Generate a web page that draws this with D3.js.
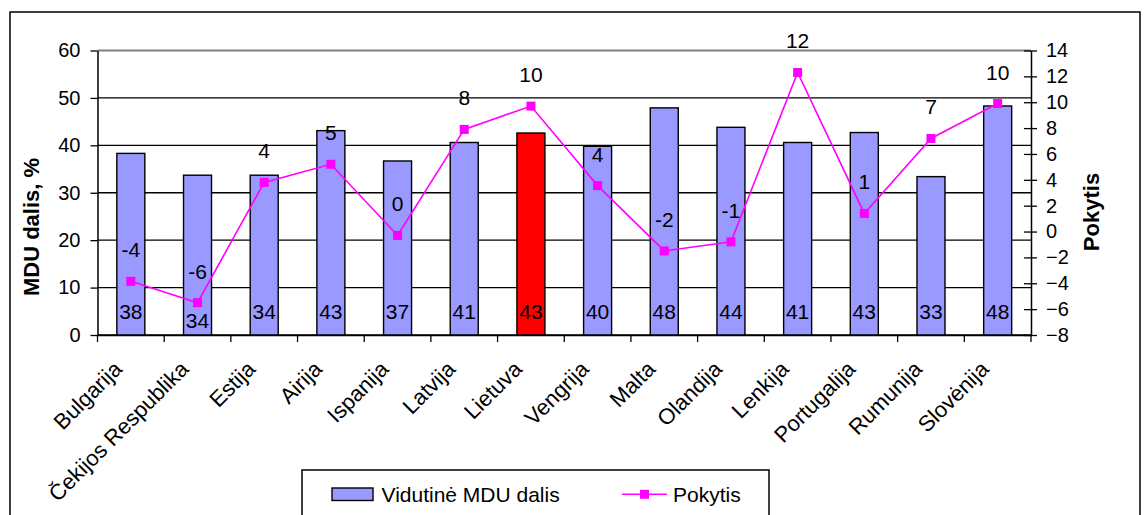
<!DOCTYPE html>
<html>
<head>
<meta charset="utf-8">
<script src="https://cdn.jsdelivr.net/npm/d3@7"></script>
<style>
  html, body { margin: 0; padding: 0; background: #fff; }
  svg { display: block; font-family: "Liberation Sans", Arial, sans-serif; }
</style>
</head>
<body>
<svg id="chart" width="1146" height="515"></svg>
<script>
// ---- Data ----
const categories = ["Bulgarija", "Čekijos Respublika", "Estija", "Airija", "Ispanija", "Latvija", "Lietuva",
  "Vengrija", "Malta", "Olandija", "Lenkija", "Portugalija", "Rumunija", "Slovėnija"];
const mduShare = [38.3, 33.7, 33.7, 43.1, 36.7, 40.6, 42.6, 39.8, 47.9, 43.8, 40.6, 42.7, 33.4, 48.3];
const change = [-3.85, -5.5, 3.8, 5.2, -0.3, 7.9, 9.7, 3.55, -1.5, -0.8, 12.3, 1.4, 7.2, 9.9];
const highlighted = ["Lietuva"];
const leftTicks = [0, 10, 20, 30, 40, 50, 60];
const rightTicks = [-8, -6, -4, -2, 0, 2, 4, 6, 8, 10, 12, 14];
const seriesNames = ["Vidutinė MDU dalis", "Pokytis"];
const leftTitle = "MDU dalis, %";
const rightTitle = "Pokytis";

// ---- Layout ----
const svg = d3.select("#chart");
const X0 = 97.5, X1 = 1031, Y0 = 335, Y1 = 50.5;
const BAR = "#9999FF", RED = "#FF0000", MAG = "#FF00FF";
const roundXL = v => { const r = Math.sign(v) * Math.round(Math.abs(v)); return String(r === 0 ? 0 : r); };

const x = d3.scaleBand().domain(categories).range([X0, X1]).paddingInner(0).paddingOuter(0);
const yL = d3.scaleLinear().domain([0, 60]).range([Y0, Y1]);
const yR = d3.scaleLinear().domain([-8, 14]).range([Y0, Y1]);

// outer border
svg.append("rect").attr("x", 10).attr("y", 12).attr("width", 1130).attr("height", 520)
  .attr("fill", "none").attr("stroke", "#000").attr("stroke-width", 1.5);

// gridlines
svg.append("g").selectAll("line").data(leftTicks.filter(t => t < 60)).join("line")
  .attr("x1", X0).attr("x2", X1).attr("y1", d => yL(d)).attr("y2", d => yL(d))
  .attr("stroke", "#000").attr("stroke-width", 1.3);
// top plot border (grey)
svg.append("line").attr("x1", X0).attr("x2", X1).attr("y1", yL(60)).attr("y2", yL(60))
  .attr("stroke", "#808080").attr("stroke-width", 2);

// bars
const bw = x.bandwidth() * 0.42;
svg.append("g").selectAll("rect").data(categories).join("rect")
  .attr("x", d => x(d) + x.bandwidth() / 2 - bw / 2)
  .attr("y", (d, i) => yL(mduShare[i]))
  .attr("width", bw)
  .attr("height", (d, i) => yL(0) - yL(mduShare[i]))
  .attr("fill", d => highlighted.includes(d) ? RED : BAR)
  .attr("stroke", "#000").attr("stroke-width", 1.4);

// bar labels
svg.append("g").selectAll("text").data(categories).join("text")
  .attr("x", d => x(d) + x.bandwidth() / 2)
  .attr("y", (d, i) => yL(0) - 16.5 + (i === 1 ? 9 : 0))
  .attr("text-anchor", "middle").attr("font-size", 21).attr("fill", "#000")
  .text((d, i) => roundXL(mduShare[i]));

// left axis
const gL = svg.append("g").attr("transform", `translate(${X0},0)`)
  .call(d3.axisLeft(yL).tickValues(leftTicks).tickSizeInner(7).tickSizeOuter(0).tickPadding(10));
gL.selectAll(".tick line").attr("x2", -7).attr("x1", 0);
// right axis
const gR = svg.append("g").attr("transform", `translate(${X1},0)`)
  .call(d3.axisRight(yR).tickValues(rightTicks).tickSizeInner(7).tickSizeOuter(0).tickPadding(8));
gR.selectAll(".tick line").attr("x1", -7).attr("x2", 6);
// bottom axis (ticks between categories)
const gB = svg.append("g").attr("transform", `translate(0,${Y0})`)
  .call(d3.axisBottom(x).tickSize(0).tickFormat(""));
gB.selectAll(".tick").remove();
gB.append("g").selectAll("line").data(categories.concat(["__end"])).join("line")
  .attr("x1", (d, i) => X0 + i * x.bandwidth()).attr("x2", (d, i) => X0 + i * x.bandwidth())
  .attr("y1", 0).attr("y2", 7).attr("stroke", "#000").attr("stroke-width", 1.3);

[gL, gR, gB].forEach(g => {
  g.selectAll(".domain").attr("stroke", "#000").attr("stroke-width", 1.5);
  g.selectAll(".tick line").attr("stroke", "#000").attr("stroke-width", 1.3);
  g.selectAll(".tick text").attr("font-size", 20).attr("fill", "#000")
    .attr("font-family", "'Liberation Sans', Arial, sans-serif");
});

// category labels (rotated)
svg.append("g").selectAll("text").data(categories).join("text")
  .attr("transform", d => `translate(${x(d) + x.bandwidth() / 2 - 13},${365}) rotate(-45)`)
  .attr("text-anchor", "end").attr("dy", "0.35em")
  .attr("font-size", 22).attr("fill", "#000")
  .text(d => d);

// line series
const line = d3.line().x((d, i) => x(categories[i]) + x.bandwidth() / 2).y(d => yR(d));
svg.append("path").datum(change).attr("d", line)
  .attr("fill", "none").attr("stroke", MAG).attr("stroke-width", 1.6);
svg.append("g").selectAll("rect").data(change).join("rect")
  .attr("x", (d, i) => x(categories[i]) + x.bandwidth() / 2 - 4.5)
  .attr("y", d => yR(d) - 4.5)
  .attr("width", 9).attr("height", 9).attr("fill", MAG);
svg.append("g").selectAll("text").data(change).join("text")
  .attr("x", (d, i) => x(categories[i]) + x.bandwidth() / 2)
  .attr("y", d => yR(d) - 24)
  .attr("text-anchor", "middle").attr("font-size", 21).attr("fill", "#000")
  .text(d => roundXL(d));

// axis titles
svg.append("text").attr("transform", "translate(39,227) rotate(-90)")
  .attr("text-anchor", "middle").attr("font-size", 22).attr("font-weight", "bold").text(leftTitle);
svg.append("text").attr("transform", "translate(1099,212) rotate(-90)")
  .attr("text-anchor", "middle").attr("font-size", 22).attr("font-weight", "bold").text(rightTitle);

// legend
const lg = svg.append("g");
lg.append("rect").attr("x", 302).attr("y", 470).attr("width", 467).attr("height", 70)
  .attr("fill", "#fff").attr("stroke", "#000").attr("stroke-width", 1.5);
lg.append("rect").attr("x", 332).attr("y", 488).attr("width", 41).attr("height", 12.5)
  .attr("fill", BAR).attr("stroke", "#000").attr("stroke-width", 1.4);
lg.append("text").attr("x", 381.5).attr("y", 501.5).attr("font-size", 21).text(seriesNames[0]);
lg.append("line").attr("x1", 622).attr("x2", 667).attr("y1", 494.3).attr("y2", 494.3)
  .attr("stroke", MAG).attr("stroke-width", 1.6);
lg.append("rect").attr("x", 640).attr("y", 489.8).attr("width", 9).attr("height", 9).attr("fill", MAG);
lg.append("text").attr("x", 673).attr("y", 501.5).attr("font-size", 21).text(seriesNames[1]);
</script>
</body>
</html>
